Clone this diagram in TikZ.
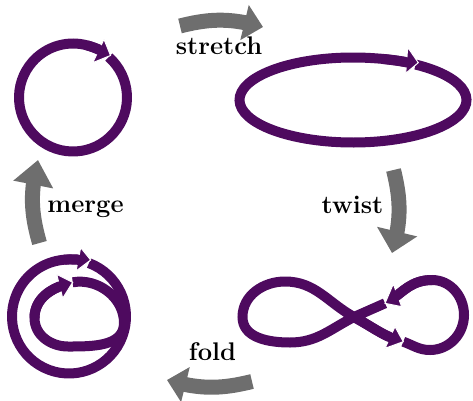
\documentclass[tikz,border=0pt]{standalone}
\usepackage{fontspec}
\usetikzlibrary{arrows.meta,bending}
\definecolor{loopcol}{RGB}{78,10,95}
\definecolor{flowgray}{RGB}{110,110,110}
\begin{document}
\begin{tikzpicture}[x=1pt,y=1pt,
  loopline/.style={draw=loopcol, line width=10pt},
  loopbody/.style={loopline, shorten >=10pt},
  shaftfix/.style={loopline, shorten >=9pt},
  loophead/.style={fill=loopcol, draw=white, line width=1pt, line join=miter},
  greyarrow/.style={draw=flowgray, line width=15pt},
  lbl/.style={font=\fontsize{25.5}{30}\selectfont\bfseries\addfontfeatures{FakeBold=0.8}, anchor=base, inner sep=0pt}
]
\useasboundingbox (0,0) rectangle (473,400);

% centres of the loops
\coordinate (circ) at (73,302.5);
\coordinate (ell) at (353,300);
\coordinate (outer) at (69,83.5);

% figure-eight points
\coordinate (U) at (385,96.7);
\coordinate (D) at (403.3,58.3);
\coordinate (C) at (354,83);
\coordinate (Lb) at (290,57.5);
\coordinate (Ll) at (242.5,83);
\coordinate (Lt) at (285,118.5);
\coordinate (Rb) at (430,50);
\coordinate (Rr) at (464,85);
\coordinate (Rt) at (432,120);

% inner loop points
\coordinate (Ir) at (124,77);
\coordinate (Ib) at (68,53.5);
\coordinate (Il) at (34.5,82);
\coordinate (It) at (72.7,117.7);

% ---------- loop bodies
\draw[loopbody] (circ) ++(48.5:54) arc[start angle=48.5, end angle=-312, radius=54];
\draw[loopbody]
  (ell) ++(56.5:113.5 and 42.5) arc[start angle=56.5, end angle=-304, x radius=113.5, y radius=42.5];
\draw[loopbody]
  (U) -- (C) to[out=207,in=0] (Lb) to[out=180,in=270] (Ll)
  to[out=90,in=180] (Lt) to[out=0,in=151] (C) to[out=-29,in=162] (D);
\draw[loopbody]
  (D) to[out=-20,in=180] (Rb) to[out=0,in=270] (Rr)
  to[out=90,in=0] (Rt) to[out=180,in=32] (U);
\draw[loopbody] (outer) ++(69.5:57) arc[start angle=69.5, end angle=-291, radius=57];
\draw[loopbody]
  (It) to[out=10,in=90] (Ir) to[out=270,in=0] (Ib)
  to[out=180,in=270] (Il) to[out=90,in=197] (It);

% ---------- arrowheads
\filldraw[loophead] (104,360.7) -- (110.5,344.5) -- (92.7,337.3) -- cycle;
\filldraw[loophead] (407.7,352.7) -- (418.3,337.3) -- (405.7,326.7) -- cycle;
\filldraw[loophead] (393.3,116) -- (385,96.7) -- (401.7,93.3) -- cycle;
\filldraw[loophead] (395,73.3) -- (403.3,58.3) -- (385,51.7) -- cycle;
\filldraw[loophead] (80.7,152.3) -- (90.7,140) -- (76,129) -- cycle;
\filldraw[loophead] (56.7,125.7) -- (72.7,117.7) -- (62.7,101.7) -- cycle;

% ---------- shafts entering the heads
\draw[shaftfix] (circ) ++(-285:54) arc[start angle=-285, end angle=-312, radius=54];
\draw[shaftfix]
  (ell) ++(-285:113.5 and 42.5) arc[start angle=-285, end angle=-304, x radius=113.5, y radius=42.5];
\draw[shaftfix] (C) to[out=-29,in=162] (D);
\draw[shaftfix] (Rt) to[out=180,in=32] (U);
\draw[shaftfix] (outer) ++(-265:57) arc[start angle=-265, end angle=-291, radius=57];
\draw[shaftfix] (Il) to[out=90,in=197] (It);

% ---------- grey process arrows
\coordinate (s1) at (180,374);
\coordinate (s2) at (263,373);
\coordinate (t1) at (393.5,230);
\coordinate (t2) at (392,147);
\coordinate (f1) at (252,18.5);
\coordinate (f2) at (167,20);
\coordinate (m1) at (39.5,157);
\coordinate (m2) at (38,240);
\draw[greyarrow, -{Triangle[width=35pt,length=19pt,flex=1]}] (s1) to[bend left=15] (s2);
\draw[greyarrow, -{Triangle[width=40pt,length=22pt,flex=1]}] (t1) to[bend left=15] (t2);
\draw[greyarrow, -{Triangle[width=35pt,length=19pt,flex=1]}] (f1) to[bend left=15] (f2);
\draw[greyarrow, -{Triangle[width=39pt,length=25pt,flex=1]}] (m1) to[bend left=15] (m2);

% ---------- labels
\node[lbl] (stretch) at (219,345) {stretch};
\node[lbl] (twist) at (352.5,187) {twist};
\node[lbl] (merge) at (85.5,188) {merge};
\node[lbl] (fold) at (212.5,40) {fold};
\end{tikzpicture}
\end{document}
